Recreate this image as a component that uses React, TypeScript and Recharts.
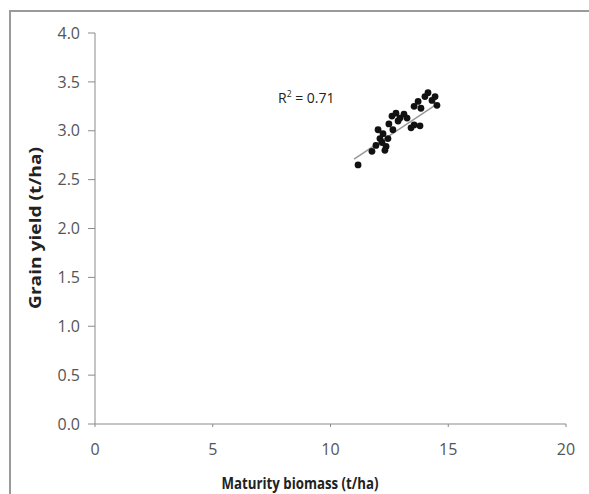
import React from "react";
import { ScatterChart, Scatter, XAxis, YAxis, ReferenceLine, Customized } from "recharts";

const biomass = [11.17, 11.76, 11.93, 12.02, 12.23, 12.19, 12.36, 12.44, 12.31, 12.48, 12.61, 12.78, 12.95, 13.12, 13.25, 13.42, 13.55, 13.8, 13.55, 13.72, 13.84, 14.01, 14.14, 14.31, 14.44, 14.52, 12.65, 12.1, 12.87];
const grainYield = [2.65, 2.79, 2.85, 3.01, 2.97, 2.88, 2.84, 2.92, 2.8, 3.07, 3.15, 3.18, 3.13, 3.17, 3.13, 3.03, 3.06, 3.05, 3.25, 3.3, 3.23, 3.35, 3.39, 3.31, 3.35, 3.26, 3.01, 2.92, 3.1];
const trendX = [11.0, 14.5];
const trendY = [2.71, 3.27];
const xTicks = [0, 5, 10, 15, 20];
const yTicks = [0, 0.5, 1, 1.5, 2, 2.5, 3, 3.5, 4];

const points = biomass.map((x, i) => ({ x, y: grainYield[i] }));
const FONT = "'Open Sans', 'Noto Sans', sans-serif";

const Dot = (props: any) => {
  const { cx, cy } = props;
  if (cx == null || cy == null) return null;
  return <circle cx={cx} cy={cy} r={3.4} fill="#111" />;
};

const Titles = () => (
  <g>
    <text x={300} y={489} textAnchor="middle" fontFamily={FONT} fontWeight={700} fontSize={16.5} fill="#222" textLength={157} lengthAdjust="spacingAndGlyphs">
      Maturity biomass (t/ha)
    </text>
    <text x={41} y={228} textAnchor="middle" fontFamily={FONT} fontWeight={700} fontSize={16.5} fill="#222" textLength={162} lengthAdjust="spacingAndGlyphs" transform="rotate(-90 41 228)">
      Grain yield (t/ha)
    </text>
    <text x={278} y={103} fontFamily={FONT} fontSize={14} fill="#222">
      R<tspan dy={-6} fontSize={8.5}>2</tspan><tspan dy={6}> = 0.71</tspan>
    </text>
  </g>
);

export default function App() {
  return (
    <div style={{ position: "absolute", left: 0, top: 0, width: 589, height: 494, overflow: "hidden", background: "#fff" }}>
      <div style={{ position: "absolute", left: 9, top: 10, width: 700, height: 700, border: "2px solid #9a9a9a" }} />
      <div style={{ position: "absolute", left: 0, top: 0 }}>
        <ScatterChart width={589} height={494} margin={{ top: 33, right: 23, bottom: 40, left: 0 }}>
          <XAxis
            type="number"
            dataKey="x"
            domain={[0, 20]}
            ticks={xTicks}
            height={30}
            stroke="#8a8a8a"
            tickSize={3}
            tickMargin={17}
            tick={{ fill: "#555", fontSize: 16, fontFamily: FONT }}
          />
          <YAxis
            type="number"
            dataKey="y"
            domain={[0, 4]}
            ticks={yTicks}
            width={95}
            stroke="#8a8a8a"
            tickSize={7}
            tickMargin={8}
            tickFormatter={(v: number) => v.toFixed(1)}
            tick={{ fill: "#555", fontSize: 16, fontFamily: FONT }}
          />
          <ReferenceLine
            segment={[{ x: trendX[0], y: trendY[0] }, { x: trendX[1], y: trendY[1] }]}
            stroke="#999"
            strokeWidth={1.5}
          />
          <Scatter data={points} shape={<Dot />} isAnimationActive={false} />
          <Customized component={Titles} />
        </ScatterChart>
      </div>
    </div>
  );
}
